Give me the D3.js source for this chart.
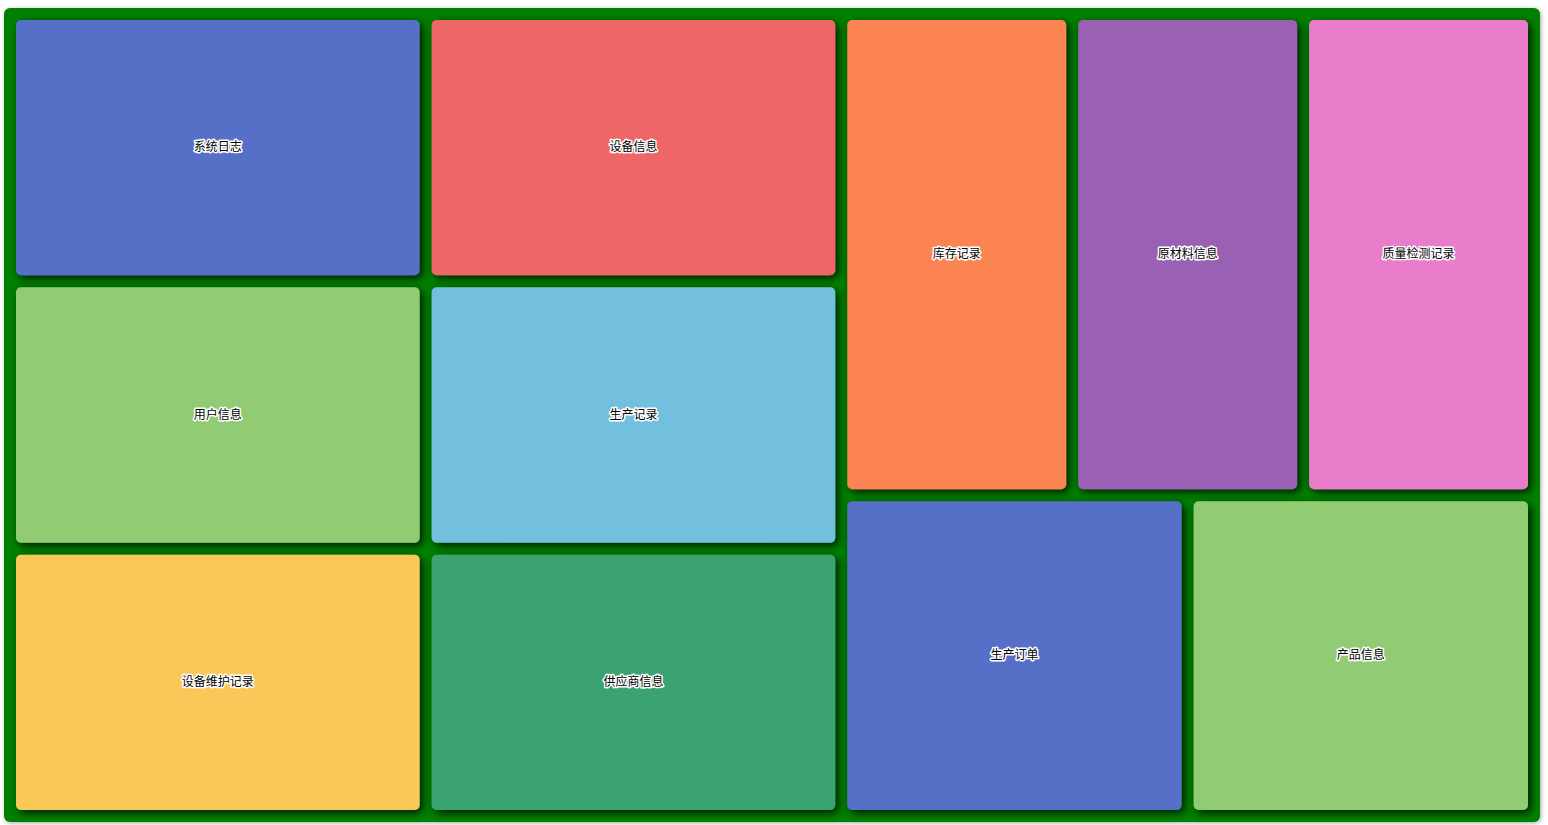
<!DOCTYPE html>
<html>
<head>
<meta charset="utf-8">
<script src="https://cdn.jsdelivr.net/npm/d3@7/dist/d3.min.js"></script>
<style>
  html, body { margin: 0; padding: 0; background: #ffffff; }
  svg { display: block; }
</style>
</head>
<body>
<svg id="chart" width="1548" height="825"></svg>
<script>
const categories = ["系统日志", "用户信息", "设备维护记录", "设备信息", "生产记录", "供应商信息", "库存记录", "原材料信息", "质量检测记录", "生产订单", "产品信息"];
const values = [1, 1, 1, 1, 1, 1, 1, 1, 1, 1, 1];
const palette = ["#5470c6", "#91cc75", "#fac858", "#ee6666", "#73c0de", "#3ba272", "#fc8452", "#9a60b4", "#ea7ccc"];

const svg = d3.select("#chart");
const defs = svg.append("defs");
const outerShadow = defs.append("filter").attr("id", "outerShadow")
  .attr("x", "-5%").attr("y", "-5%").attr("width", "110%").attr("height", "110%");
outerShadow.append("feDropShadow").attr("dx", 1).attr("dy", 1).attr("stdDeviation", 2)
  .attr("flood-color", "#000").attr("flood-opacity", 0.35);
const cellShadow = defs.append("filter").attr("id", "cellShadow")
  .attr("x", "-10%").attr("y", "-10%").attr("width", "125%").attr("height", "125%");
cellShadow.append("feDropShadow").attr("dx", 3).attr("dy", 3).attr("stdDeviation", 4)
  .attr("flood-color", "#000").attr("flood-opacity", 0.8);

const X0 = 4, Y0 = 8, W = 1536, H = 814;

const data = { name: "root", children: categories.map((c, i) => ({ name: c, value: values[i], idx: i })) };
const root = d3.hierarchy(data).sum(d => d.value || 0);
d3.treemap().tile(d3.treemapSquarify).size([W, H]).paddingOuter(12).paddingInner(12)(root);

const g = svg.append("g").attr("transform", `translate(${X0},${Y0})`);
g.append("rect").attr("x", 0).attr("y", 0).attr("width", W).attr("height", H)
  .attr("rx", 6).attr("ry", 6).attr("fill", "#008000").attr("filter", "url(#outerShadow)");

const leaves = g.selectAll("g.cell").data(root.leaves()).enter().append("g").attr("class", "cell");
leaves.append("rect")
  .attr("x", d => d.x0).attr("y", d => d.y0)
  .attr("width", d => d.x1 - d.x0).attr("height", d => d.y1 - d.y0)
  .attr("rx", 5).attr("ry", 5)
  .attr("fill", d => palette[d.data.idx % palette.length])
  .attr("filter", "url(#cellShadow)");
leaves.append("text")
  .attr("x", d => (d.x0 + d.x1) / 2).attr("y", d => (d.y0 + d.y1) / 2 - 2)
  .attr("text-anchor", "middle").attr("dominant-baseline", "central")
  .attr("font-family", "'Noto Sans CJK SC', 'Microsoft YaHei', sans-serif")
  .attr("font-size", 12)
  .attr("fill", "#000")
  .attr("stroke", "#fff").attr("stroke-width", 3).attr("stroke-linejoin", "round")
  .attr("paint-order", "stroke")
  .text(d => d.data.name);
</script>
</body>
</html>
